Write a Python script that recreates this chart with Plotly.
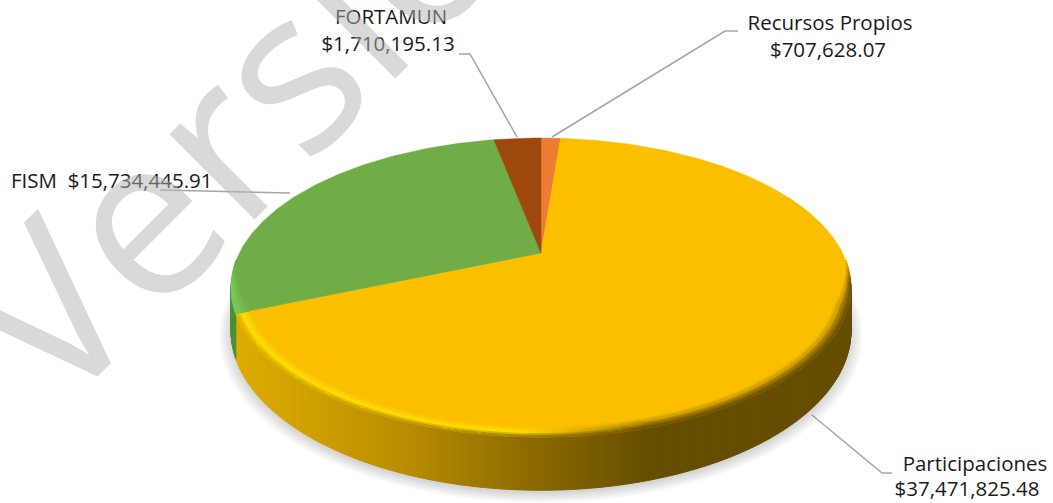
import math
import plotly.graph_objects as go

# chart data, clockwise from 12 o'clock
names = ['Recursos Propios', 'Participaciones', 'FISM', 'FORTAMUN']
values = [707628.07, 37471825.48, 15734445.91, 1710195.13]
face_colors = ['#ED7D31', '#FCBF00', '#70AD47', '#9E480E']
wall_colors = ['#B5601F', '#FCBF00', '#4F8F35', '#7A380B']
rim_colors = ['#F29A5A', '#FFE000', '#7CCB5A', '#B85A18']
watermark = 'Versión'

# disc projection, pixels
CX, CY = 541, 253
A, B, K = 301.6, 141.5, 0.2308
DEPTH = 41
W, H = 1053, 503

# side wall shade from left to right
wall_stops = [(230, '#E0AD00'), (300, '#D2A200'), (400, '#BA8E00'), (480, '#9E7800'),
              (530, '#8C6A00'), (600, '#755A00'), (650, '#664E00'), (860, '#664E00')]


def project(theta, r=1.0, z=0.0):
    x = r * math.sin(theta)
    y = r * math.cos(theta)
    w = 1 + K * y
    return CX + A * x / w, CY - B * y / w + DEPTH * z / w


def hex_rgb(c):
    return tuple(int(c[i:i + 2], 16) for i in (1, 3, 5))


def mix(c1, c2, t):
    t = max(0.0, min(1.0, t))
    a, b = hex_rgb(c1), hex_rgb(c2)
    return '#%02X%02X%02X' % tuple(round(a[i] + (b[i] - a[i]) * t) for i in range(3))


def wall_shade(px):
    for (x0, c0), (x1, c1) in zip(wall_stops, wall_stops[1:]):
        if px <= x1:
            return mix(c0, c1, (px - x0) / (x1 - x0))
    return wall_stops[-1][1]


total = sum(values)
edges = [0.0]
for v in values:
    edges.append(edges[-1] + v / total * 2 * math.pi)


def slice_index(theta):
    for i in range(len(values)):
        if edges[i] <= theta < edges[i + 1]:
            return i
    return len(values) - 1


fig = go.Figure()

# labels and leader lines go on the first subplot, under the watermark
leaders = [
    ([459, 470, 517], [54, 54, 137]),
    ([738, 725, 552], [31, 31, 137]),
    ([160, 290], [190, 193]),
    ([812, 882, 892], [415, 473, 473]),
]
for lx, ly in leaders:
    fig.add_trace(go.Scatter(x=lx, y=ly, mode='lines', line=dict(color='#A6A6A6', width=1.5),
                             hoverinfo='skip', showlegend=False))

money = {n: '${:,.2f}'.format(v) for n, v in zip(names, values)}
label_x = [830, 828, 391, 388, 11, 975, 967]
label_y = [25, 52, 19, 46, 183, 466, 491]
label_text = ['Recursos Propios', money['Recursos Propios'], 'FORTAMUN', money['FORTAMUN'],
              'FISM  ' + money['FISM'], 'Participaciones', money['Participaciones']]
label_pos = ['middle center'] * 4 + ['middle right'] + ['middle center'] * 2
fig.add_trace(go.Scatter(x=label_x, y=label_y, mode='text', text=label_text, textposition=label_pos,
                         textfont=dict(family='Open Sans', size=20.5, color='#1A1A1A'),
                         hoverinfo='skip', showlegend=False))

# soft shadow under the disc
for step in range(7):
    pts = [project(math.radians(t), 1.0 + 0.006 * step, 1.06) for t in range(0, 361, 3)]
    fig.add_trace(go.Scatter(x=[p[0] for p in pts], y=[p[1] for p in pts], mode='lines', fill='toself',
                             fillcolor='rgba(0,0,0,0.022)', line=dict(width=0),
                             hoverinfo='skip', showlegend=False, xaxis='x2', yaxis='y2'))

# side wall and bevel are small quads, grouped by colour
quads = {}


def add_quad(color, pts):
    xs, ys = quads.setdefault(color, ([], []))
    for p in pts + pts[:1]:
        xs.append(p[0])
        ys.append(p[1])
    xs.append(None)
    ys.append(None)


def flush_quads():
    for color, (xs, ys) in quads.items():
        fig.add_trace(go.Scatter(x=xs, y=ys, mode='lines', fill='toself', fillcolor=color,
                                 line=dict(color=color, width=1),
                                 hoverinfo='skip', showlegend=False, xaxis='x2', yaxis='y2'))
    quads.clear()


STEPS = 720
for s in range(STEPS):
    t0 = 2 * math.pi * s / STEPS
    t1 = 2 * math.pi * (s + 1) / STEPS
    mid = (t0 + t1) / 2
    # only the front of the wall can be seen
    if not math.radians(102) < mid < math.radians(258):
        continue
    i = slice_index(mid)
    color = wall_shade(project(mid)[0]) if i == 1 else wall_colors[i]
    add_quad(color, [project(t0), project(t1), project(t1, 1, 1), project(t0, 1, 1)])
flush_quads()

# flat top of each slice
for i, name in enumerate(names):
    n = max(2, int((edges[i + 1] - edges[i]) / math.radians(1)))
    angles = [edges[i] + (edges[i + 1] - edges[i]) * j / n for j in range(n + 1)]
    pts = [project(a) for a in angles]
    xs = [CX] + [p[0] for p in pts] + [CX]
    ys = [CY] + [p[1] for p in pts] + [CY]
    fig.add_trace(go.Scatter(x=xs, y=ys, mode='lines', fill='toself', fillcolor=face_colors[i],
                             line=dict(color=face_colors[i], width=0.5), name=name,
                             hoverinfo='name', showlegend=False, xaxis='x2', yaxis='y2'))

# bevel along the front rim
BANDS = 6
BEVEL = 0.042
for s in range(STEPS):
    t0 = 2 * math.pi * s / STEPS
    t1 = 2 * math.pi * (s + 1) / STEPS
    mid = (t0 + t1) / 2
    strength = max(0.0, min(1.0, (-0.05 - math.cos(mid)) / 0.3))
    if strength <= 0:
        continue
    fade = min(1.0, (-0.05 - math.cos(mid)) / 0.15)
    i = slice_index(mid)
    px = project(mid)[0]
    for b in range(BANDS):
        f0, f1 = b / BANDS, (b + 1) / BANDS
        fm = (f0 + f1) / 2
        r0 = 1 - BEVEL * strength * (1 - f0)
        r1 = 1 - BEVEL * strength * (1 - f1)
        if i == 1:
            edge = wall_shade(px)
            glow = max(0.0, min(1.0, (640 - px) / 120))
            peak = mix(face_colors[1], rim_colors[1], glow)
            if fm < 0.6:
                color = mix(face_colors[1], peak, fm / 0.6)
            else:
                color = mix(peak, edge, (fm - 0.6) / 0.4)
            color = mix(mix(face_colors[1], edge, fm), color, glow)
        else:
            color = mix(face_colors[i], rim_colors[i], fm)
        color = mix(face_colors[i], color, fade)
        add_quad(color, [project(t0, r0), project(t1, r0), project(t1, r1), project(t0, r1)])
flush_quads()

fig.update_layout(
    width=W,
    height=H,
    margin=dict(l=0, r=0, t=0, b=0),
    paper_bgcolor='white',
    plot_bgcolor='rgba(0,0,0,0)',
    xaxis=dict(range=[0, W], visible=False, domain=[0, 1]),
    yaxis=dict(range=[H, 0], visible=False, domain=[0, 1]),
    xaxis2=dict(range=[0, W], visible=False, domain=[0, 1], anchor='y2'),
    yaxis2=dict(range=[H, 0], visible=False, domain=[0, 1], anchor='x2'),
)

# watermark sits under the pie but over the labels
fig.add_shape(type='rect', xref='x2', yref='y2', x0=225, x1=345, y0=27, y1=147, layer='below',
              line=dict(width=0), fillcolor='rgba(0,0,0,0)',
              label=dict(text=watermark, textangle=-45, textposition='middle center',
                         font=dict(family='Open Sans', size=225, color='rgba(179,179,179,0.5)')))

fig.write_html("out.html", config=dict(displayModeBar=False),
               post_script="document.body.style.margin='0'")
